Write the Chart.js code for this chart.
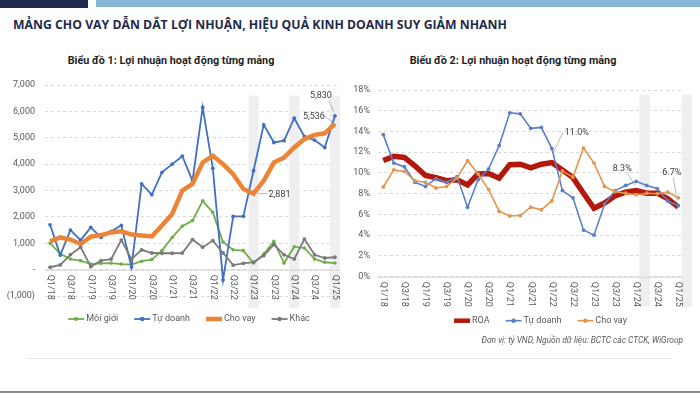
<!DOCTYPE html>
<html>
<head>
<meta charset="utf-8">
<script src="https://cdn.jsdelivr.net/npm/chart.js@4.4.1/dist/chart.umd.min.js"></script>
<style>
  html, body { margin: 0; padding: 0; background: #fff; }
  #page { position: relative; width: 700px; height: 394px; overflow: hidden; font-family: Roboto, "Liberation Sans", sans-serif; }
  .bar-dark { position: absolute; left: 0; top: 0; width: 88px; height: 8px; background: #1f2a4e; }
  .bar-light { position: absolute; left: 96px; top: 0; width: 604px; height: 7px; background: #84b6d6; }
  #mainTitle { position: absolute; left: 13px; top: 17px; font: bold 13px "Open Sans", sans-serif; line-height: 14px; color: #1e2a4a; white-space: nowrap; transform-origin: left center; }
  .chart-title { position: absolute; top: 55px; font: bold 10.8px Roboto, sans-serif; line-height: 12px; color: #1f1f1f; white-space: nowrap; transform: translateX(-50%); }
  .chart-box { position: absolute; top: 48px; width: 350px; height: 290px; }
  #source { position: absolute; right: 17px; top: 335px; font: italic 8.4px Roboto, sans-serif; line-height: 10px; color: #595959; white-space: nowrap; }
  .sep { position: absolute; left: 27px; top: 358px; width: 645px; height: 1px; background: #e8e8e8; }
  .bottom-line { position: absolute; left: 0; top: 391px; width: 700px; height: 2px; background: #8c8c8c; }
</style>
</head>
<body>
<div id="page">
  <div class="bar-dark"></div>
  <div class="bar-light"></div>
  <div id="mainTitle">MẢNG CHO VAY DẪN DẮT LỢI NHUẬN, HIỆU QUẢ KINH DOANH SUY GIẢM NHANH</div>
  <div class="chart-title" style="left:171px">Biểu đồ 1: Lợi nhuận hoạt động từng mảng</div>
  <div class="chart-title" style="left:513px">Biểu đồ 2: Lợi nhuận hoạt động từng mảng</div>
  <canvas id="chart1" class="chart-box" style="left:0" width="350" height="290"></canvas>
  <canvas id="chart2" class="chart-box" style="left:350px" width="350" height="290"></canvas>
  <div id="source">Đơn vị: tỷ VND, Nguồn dữ liệu: BCTC các CTCK, WiGroup</div>
  <div class="sep"></div>
  <div class="bottom-line"></div>
</div>
<script>
// ——— Data ———
var quarters = [
  "Q1/18", "Q2/18", "Q3/18", "Q4/18", "Q1/19", "Q2/19", "Q3/19", "Q4/19",
  "Q1/20", "Q2/20", "Q3/20", "Q4/20", "Q1/21", "Q2/21", "Q3/21", "Q4/21",
  "Q1/22", "Q2/22", "Q3/22", "Q4/22", "Q1/23", "Q2/23", "Q3/23", "Q4/23",
  "Q1/24", "Q2/24", "Q3/24", "Q4/24", "Q1/25"
];
var tickLabels = ["Q1/18", "Q3/18", "Q1/19", "Q3/19", "Q1/20", "Q3/20", "Q1/21", "Q3/21",
  "Q1/22", "Q3/22", "Q1/23", "Q3/23", "Q1/24", "Q3/24", "Q1/25"];

// Biểu đồ 1 (tỷ VND)
var moiGioi = [1000, 600, 400, 340, 210, 240, 250, 210, 190, 320, 380, 720, 1220, 1650, 1860, 2610,
  2170, 1050, 750, 720, 250, 590, 1070, 250, 870, 820, 400, 280, 250];
var tuDoanh = [1700, 550, 1500, 1120, 1600, 1220, 1450, 1680, 100, 3250, 2840, 3690, 4000, 4300, 3370, 6150,
  3840, -390, 2020, 2020, 3750, 5490, 4820, 4890, 5740, 5050, 4910, 4630, 5830];
var choVay = [1070, 1220, 1140, 970, 1250, 1310, 1410, 1450, 1330, 1290, 1260, 1670, 2110, 3000, 3250, 4060,
  4320, 4000, 3620, 3060, 2881, 3370, 4060, 4250, 4630, 4950, 5110, 5170, 5536];
var khac = [90, 180, 570, 850, 110, 340, 400, 1120, 400, 750, 630, 620, 620, 630, 1140, 850,
  1100, 630, 170, 240, 280, 530, 950, 560, 400, 1160, 560, 440, 470];
var bands1 = ["Q1/23", "Q1/24", "Q1/25"];

// Biểu đồ 2 (%)
var roa = [11.2, 11.6, 11.5, 10.7, 9.75, 9.55, 9.25, 9.35, 8.85, 9.9, 9.95, 9.5, 10.8, 10.85, 10.5, 10.85,
  11.0, 10.3, 9.55, 8.05, 6.6, 7.1, 7.8, 8.15, 8.3, 8.05, 8.05, 7.5, 6.7];
var tuDoanhPct = [13.7, 10.95, 10.6, 9.1, 8.7, 9.45, 9.1, 9.65, 6.7, 9.35, 10.4, 12.65, 15.8, 15.7, 14.3, 14.4,
  12.35, 8.3, 7.6, 4.5, 4.0, 7.0, 8.3, 8.8, 9.2, 8.8, 8.5, 7.3, 6.85];
var choVayPct = [8.65, 10.3, 10.15, 9.25, 9.1, 8.55, 8.7, 9.5, 11.2, 9.9, 8.4, 6.3, 5.85, 5.9, 6.7, 6.45,
  7.3, 10.2, 9.6, 12.4, 10.95, 8.7, 8.2, 8.05, 7.9, 8.05, 8.0, 8.15, 7.6];
var bands2 = ["Q1/24", "Q1/25"];

var TICK_COLOR = "#595959";
var TICK_FONT = { family: "Roboto", size: 9 };

// ——— Plugins ———
// grey highlight columns behind the lines
var bandPlugin = {
  id: "bands",
  beforeDatasetsDraw: function (chart, args, opts) {
    var x = chart.scales.x, y = chart.scales.y, ctx = chart.ctx;
    var w = x.width / chart.data.labels.length;
    var top = y.getPixelForValue(opts.from), bottom = y.getPixelForValue(opts.to);
    ctx.save();
    ctx.fillStyle = opts.color;
    opts.at.forEach(function (q) {
      var cx = x.getPixelForValue(chart.data.labels.indexOf(q) + opts.shift);
      ctx.fillRect(cx - w / 2, top, w, bottom - top);
    });
    ctx.restore();
  }
};

// zero line + vertical quarter labels (read top to bottom, like Excel)
var quarterAxis = {
  id: "quarterAxis",
  beforeDatasetsDraw: function (chart, args, opts) {
    var ctx = chart.ctx, y0 = chart.scales.y.getPixelForValue(0);
    ctx.save();
    ctx.strokeStyle = opts.lineColor;
    ctx.lineWidth = 1;
    ctx.beginPath();
    ctx.moveTo(chart.chartArea.left, y0 + 0.5);
    ctx.lineTo(chart.chartArea.right, y0 + 0.5);
    ctx.stroke();
    ctx.restore();
  },
  afterDatasetsDraw: function (chart, args, opts) {
    var ctx = chart.ctx, x = chart.scales.x, y0 = chart.scales.y.getPixelForValue(0);
    ctx.save();
    ctx.font = "9px Roboto";
    ctx.fillStyle = TICK_COLOR;
    ctx.textAlign = "left";
    ctx.textBaseline = "middle";
    tickLabels.forEach(function (lab) {
      var px = x.getPixelForValue(quarters.indexOf(lab));
      ctx.save();
      ctx.translate(px, y0 + opts.gap);
      ctx.rotate(Math.PI / 2);
      ctx.fillText(lab, 0, 0);
      ctx.restore();
    });
    ctx.restore();
  }
};

// value callouts with a thin leader line
var callouts = {
  id: "callouts",
  afterDatasetsDraw: function (chart, args, opts) {
    var ctx = chart.ctx;
    ctx.save();
    ctx.font = "9px Roboto";
    ctx.fillStyle = "#404040";
    ctx.strokeStyle = "#a6a6a6";
    ctx.lineWidth = 0.8;
    ctx.textAlign = "center";
    ctx.textBaseline = "middle";
    opts.items.forEach(function (it) {
      var pt = chart.getDatasetMeta(it.ds).data[it.i];
      var v = chart.data.datasets[it.ds].data[it.i];
      ctx.beginPath();
      ctx.moveTo(pt.x + it.line[0], pt.y + it.line[1]);
      ctx.lineTo(pt.x + it.line[2], pt.y + it.line[3]);
      ctx.stroke();
      ctx.fillText(opts.format(v), pt.x + it.dx, pt.y + it.dy);
    });
    ctx.restore();
  }
};

// Excel-like legend: short line with a dot, then label
var lineLegend = {
  id: "lineLegend",
  afterDraw: function (chart, args, opts) {
    var ctx = chart.ctx;
    ctx.save();
    ctx.font = "9px Roboto";
    ctx.textAlign = "left";
    ctx.textBaseline = "middle";
    var items = chart.data.datasets.map(function (ds) {
      return { ds: ds, w: opts.mark + opts.textGap + ctx.measureText(ds.label).width };
    });
    var total = items.reduce(function (s, it) { return s + it.w; }, 0) + opts.gap * (items.length - 1);
    var x = opts.cx - total / 2;
    items.forEach(function (it) {
      var ds = it.ds;
      ctx.strokeStyle = ds.borderColor;
      ctx.lineWidth = Math.min(ds.borderWidth, 4.5);
      ctx.beginPath();
      ctx.moveTo(x, opts.y);
      ctx.lineTo(x + opts.mark, opts.y);
      ctx.stroke();
      if (ds.pointRadius) {
        ctx.fillStyle = ds.borderColor;
        ctx.beginPath();
        ctx.arc(x + opts.mark / 2, opts.y, ds.pointRadius + 0.3, 0, Math.PI * 2);
        ctx.fill();
      }
      ctx.fillStyle = TICK_COLOR;
      ctx.fillText(ds.label, x + opts.mark + opts.textGap, opts.y);
      x += it.w + opts.gap;
    });
    ctx.restore();
  }
};

function lineSet(label, data, color, width, radius, order) {
  return {
    label: label, data: data, borderColor: color, backgroundColor: color,
    borderWidth: width, pointRadius: radius, pointBorderWidth: 0,
    pointBackgroundColor: color, tension: 0, order: order
  };
}

// ——— Biểu đồ 1 ———
new Chart(document.getElementById("chart1"), {
  type: "line",
  data: {
    labels: quarters,
    datasets: [
      lineSet("Môi giới", moiGioi, "#70ad47", 1.8, 1.8, 4),
      lineSet("Tự doanh", tuDoanh, "#4170c0", 1.8, 1.9, 3),
      lineSet("Cho vay", choVay, "#eb8436", 4.5, 0, 2),
      lineSet("Khác", khac, "#7a7a7a", 1.8, 1.9, 1)
    ]
  },
  options: {
    responsive: false,
    animation: false,
    layout: { padding: { left: 0, right: 10, top: 37, bottom: 42 } },
    plugins: {
      legend: { display: false },
      tooltip: { enabled: false },
      bands: { at: bands1, shift: 0, from: 6600, to: -1450, color: "#efeff1" },
      quarterAxis: { gap: 5, lineColor: "#d0d0d0" },
      callouts: {
        format: function (v) { return v.toLocaleString("en-US"); },
        items: [
          { ds: 1, i: 28, dx: -14, dy: -20, line: [-6, -15, -1, -4] },
          { ds: 2, i: 28, dx: -21, dy: -7, line: [-11, -8, -3, -2] },
          { ds: 2, i: 20, dx: 26, dy: 1, line: [14, 0, 4, 0] }
        ]
      },
      lineLegend: { cx: 189, y: 271, mark: 16, textGap: 2, gap: 16 }
    },
    scales: {
      x: { display: false, offset: true },
      y: {
        min: -1000, max: 7000,
        ticks: {
          stepSize: 1000, color: TICK_COLOR, font: TICK_FONT, padding: 10,
          callback: function (v) {
            if (v === 0) return "-";
            if (v < 0) return "(" + Math.abs(v).toLocaleString("en-US") + ")";
            return v.toLocaleString("en-US");
          }
        },
        grid: { color: "#d9d9d9", drawTicks: false },
        border: { display: false, dash: [3, 3] },
        afterFit: function (s) { s.width = 45; }
      }
    }
  },
  plugins: [bandPlugin, quarterAxis, callouts, lineLegend]
});

// ——— Biểu đồ 2 ———
new Chart(document.getElementById("chart2"), {
  type: "line",
  data: {
    labels: quarters,
    datasets: [
      lineSet("ROA", roa, "#b3180b", 5.5, 0, 3),
      lineSet("Tự doanh", tuDoanhPct, "#5b7fc7", 1.6, 1.9, 2),
      lineSet("Cho vay", choVayPct, "#e0964f", 1.6, 1.9, 1)
    ]
  },
  options: {
    responsive: false,
    animation: false,
    layout: { padding: { left: 0, right: 16.4, top: 42, bottom: 61.3 } },
    plugins: {
      legend: { display: false },
      tooltip: { enabled: false },
      bands: { at: bands2, shift: 0.8, from: 17.55, to: -2.9, color: "#efeff1" },
      quarterAxis: { gap: 5, lineColor: "#d0d0d0" },
      callouts: {
        format: function (v) { return v.toFixed(1) + "%"; },
        items: [
          { ds: 0, i: 16, dx: 25, dy: -30, line: [11, -30, 1, -9] },
          { ds: 0, i: 24, dx: -14, dy: -22, line: [-9, -18, -1, -5] },
          { ds: 0, i: 28, dx: -6.5, dy: -34, line: [-5, -30, -1.5, -8] }
        ]
      },
      lineLegend: { cx: 190.5, y: 272.7, mark: 16, textGap: 2, gap: 16 }
    },
    scales: {
      x: { display: false, offset: true },
      y: {
        min: 0, max: 18,
        ticks: {
          stepSize: 2, color: TICK_COLOR, font: TICK_FONT, padding: 8,
          callback: function (v) { return v + "%"; }
        },
        grid: { color: "#d9d9d9", drawTicks: false },
        border: { display: false, dash: [3, 3] },
        afterFit: function (s) { s.width = 28; }
      }
    }
  },
  plugins: [bandPlugin, quarterAxis, callouts, lineLegend]
});

// stretch the headline to the width it has in the slide
var title = document.getElementById("mainTitle");
title.style.transform = "scaleX(" + (494 / title.offsetWidth) + ")";
</script>
</body>
</html>
